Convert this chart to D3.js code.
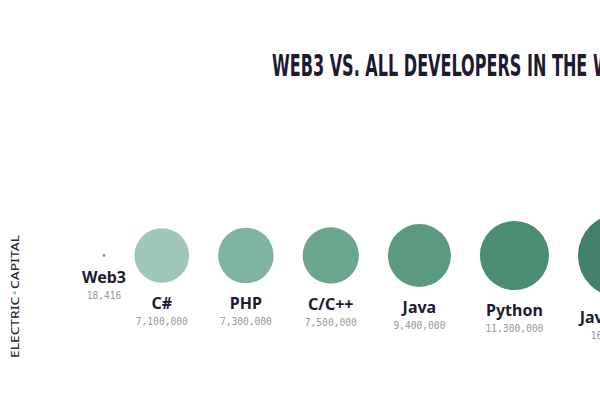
<!DOCTYPE html>
<html>
<head>
<meta charset="utf-8">
<script src="https://cdn.jsdelivr.net/npm/d3@7/dist/d3.min.js"></script>
<style>
  html, body { margin: 0; padding: 0; background: #ffffff; overflow: hidden; }
  svg { display: block; }
</style>
</head>
<body>
<svg id="chart" width="600" height="400"></svg>
<script>
// ---- data ----
const titleText = "WEB3 VS. ALL DEVELOPERS IN THE WORLD";
const languages = ["Web3", "C#", "PHP", "C/C++", "Java", "Python", "JavaScript"];
const developers = [18416, 7100000, 7300000, 7500000, 9400000, 11300000, 16400000];
const brandWords = ["ELECTRIC", "CAPITAL"];

// ---- styles ----
const palette = ["#8f9a96", "#9fc7b8", "#7db3a0", "#6aa58e", "#5b9a80", "#4b8d73", "#418069"];
const navy = "#1c1b30";

const svg = d3.select("#chart");
const W = 600, H = 400;
svg.append("rect").attr("width", W).attr("height", H).attr("fill", "#fff");

// radius scale (area proportional)
const r = d3.scaleSqrt().domain([0, 16400000]).range([0, 41.6]);
const color = d3.scaleOrdinal().domain(languages).range(palette);

// cumulative positions: fixed gap between circle edges
const gap = 29, startX = 104, cy = 255.5;
const xs = [];
languages.forEach((l, i) => {
  if (i === 0) xs.push(startX);
  else xs.push(xs[i - 1] + r(developers[i - 1]) + gap + r(developers[i]));
});
const x = d3.scaleOrdinal().domain(languages).range(xs);

const rows = languages.map((l, i) => ({ name: l, value: developers[i] }));
const fmt = d3.format(",");

const g = svg.selectAll("g.item").data(rows).join("g").attr("class", "item")
  .attr("transform", d => `translate(${x(d.name)},0)`);

g.append("circle")
  .attr("cx", 0).attr("cy", cy)
  .attr("r", d => Math.max(1.4, r(d.value)))
  .attr("fill", d => color(d.name));

g.append("text")
  .attr("x", 0)
  .attr("y", d => cy + Math.max(1.4, r(d.value)) + 26)
  .attr("text-anchor", "middle")
  .attr("font-family", "'Noto Sans', 'Open Sans', sans-serif")
  .attr("font-weight", 700)
  .attr("font-size", 16)
  .attr("fill", navy)
  .text(d => d.name);

g.append("text")
  .attr("x", 0)
  .attr("y", d => cy + Math.max(1.4, r(d.value)) + 42)
  .attr("text-anchor", "middle")
  .attr("font-family", "'DejaVu Sans Mono', 'Liberation Mono', monospace")
  .attr("font-size", 9.6)
  .attr("fill", "#999999")
  .text(d => fmt(d.value));

// ---- title ----
const title = svg.append("text")
  .attr("x", 0).attr("y", 0)
  .attr("font-family", "'Liberation Sans Narrow', 'DejaVu Sans Condensed', 'DejaVu Sans', sans-serif")
  .attr("font-weight", 700)
  .attr("font-size", 29.5)
  .attr("fill", navy)
  .text(titleText);
// squeeze horizontally so "...IN THE " spans from x=272 to the last W at x=593
const prefixLen = titleText.lastIndexOf("W");
const measured = title.node().getSubStringLength(0, prefixLen);
const sx = (593 - 272) / measured;
title.attr("transform", `translate(272,75.5) scale(${sx},1)`);

// ---- brand (rotated) ----
const brand = svg.append("text")
  .attr("transform", "translate(18.5,296.5) rotate(-90)")
  .attr("text-anchor", "middle")
  .attr("font-family", "'Noto Sans', 'DejaVu Sans', sans-serif")
  .attr("font-weight", 500)
  .attr("font-size", 11.2)
  .attr("fill", "#2a2a33");
brand.append("tspan").text(brandWords[0]);
brand.append("tspan").attr("fill", "#7fc4b0").attr("dx", 1).text("•");
brand.append("tspan").attr("dx", 1).text(brandWords[1]);
brand.attr("textLength", 123).attr("lengthAdjust", "spacingAndGlyphs");
</script>
</body>
</html>
